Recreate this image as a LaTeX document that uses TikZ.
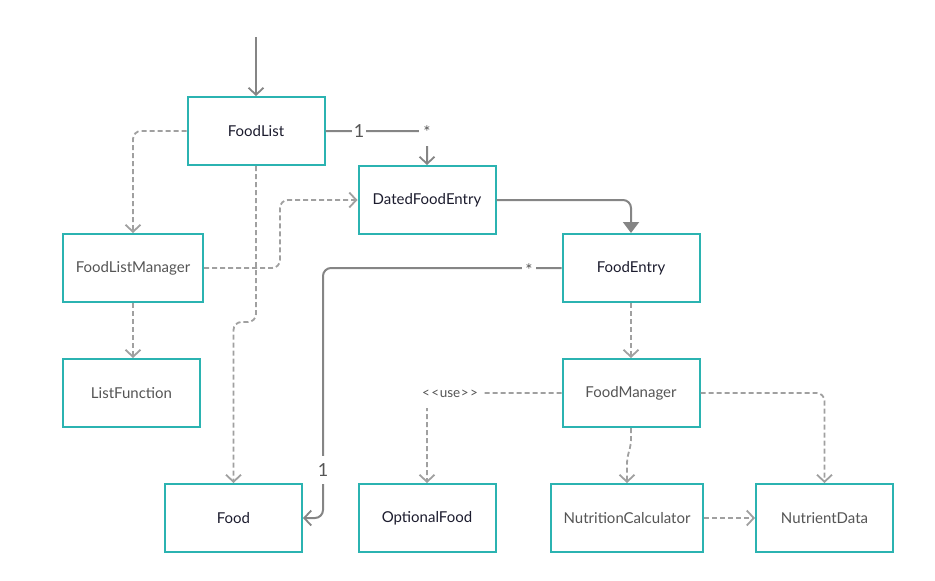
\documentclass[tikz,border=0pt]{standalone}
\usepackage{fontspec}
\setmainfont{Lato}
\usetikzlibrary{arrows.meta}
\definecolor{teal1}{HTML}{2BB3B1}
\definecolor{dtext}{HTML}{1C1C2E}
\definecolor{gtext}{HTML}{555555}
\definecolor{sline}{HTML}{858585}
\definecolor{dline}{HTML}{A0A0A0}
\begin{document}
\begin{tikzpicture}[x=1pt,y=-1pt,
  cls/.style={draw=teal1,line width=2pt,fill=white,minimum width=137pt,minimum height=68pt,inner sep=0pt,font=\fontsize{15}{18}\selectfont},
  dk/.style={text=dtext},
  gy/.style={text=gtext},
  solidc/.style={draw=sline,line width=2pt,rounded corners=8pt},
  dashc/.style={draw=dline,line width=1.8pt,dash pattern=on 5pt off 3pt,rounded corners=8pt},
  open/.style={-{Straight Barb[length=7pt,width=15pt,line width=1.8pt]}},
  filled/.style={-{Triangle[length=11pt,width=16pt]}},
  lbl/.style={fill=white,text=gtext,inner sep=2pt,font=\fontsize{18}{20}\selectfont},
  star/.style={text=gtext,inner sep=0pt,font=\fontsize{17}{18}\selectfont}
]
\useasboundingbox (0,0) rectangle (935,581);
\node[cls,dk] (FL) at (256,131) {FoodList};
\node[cls,dk] (DFE) at (427,200) {DatedFoodEntry};
\node[cls,dk] (FE) at (631,268) {FoodEntry};
\node[cls,gy,minimum width=140pt] (FLM) at (133,268) {FoodListManager};
\node[cls,gy] (LF) at (131.5,393) {ListFunction};
\node[cls,gy] (FM) at (631,393) {FoodManager};
\node[cls,dk] (F) at (233.5,518) {Food};
\node[cls,dk] (OF) at (427,518) {OptionalFood};
\node[cls,gy,minimum width=152pt] (NC) at (627,518) {NutritionCalculator};
\node[cls,gy] (ND) at (824.5,518) {NutrientData};
\coordinate (start) at (256,37);

% solid connectors
\draw[solidc,open] (start) -- (FL.north);
\draw[solidc,open] (FL.east) -| (DFE.north);
\node[lbl] (l1) at (359,131) {1};
\node[fill=white,inner sep=0pt,minimum width=16pt,minimum height=26pt,anchor=north] (l2) at (427,120) {};
\node[star] (l2t) at (427,132) {*};
\draw[solidc,filled] (DFE.east) -| (FE.north);
\draw[solidc,open] (FE.west) -| (323,518) -- (F.east);
\node[fill=white,inner sep=0pt,minimum width=14pt,minimum height=8pt] (l3) at (529,268) {};
\node[star] (l3t) at (529,270) {*};
\node[lbl,minimum height=28pt,inner sep=0pt] (l4) at (323,470) {1};

% dashed connectors
\draw[dashc,open] (FL.west) -| (FLM.north);
\draw[dashc,open] (FLM.south) -- (LF.north -| FLM.south);
\draw[dashc,open] (FLM.east) -- (280,268) -- (280,200) -- (DFE.west);
\draw[dashc,open] (FL.south) -- (256,322) -- (233.5,322) -- (F.north);
\draw[dashc,open] (FE.south) -- (FM.north);
\draw[dashc,open] (FM.west) -| (OF.north);
\node[fill=white,text=gtext,inner sep=0pt,minimum width=64pt,minimum height=28pt,font=\fontsize{13.5}{15}\selectfont] (use) at (450,394) {<\kern1.5pt<\kern0.5pt use\kern0.5pt>\kern1.5pt>};
\draw[dashc,open,rounded corners=6pt] (FM.south) -- (631,445) -- (627,458) -- (NC.north);
\draw[dashc,open] (FM.east) -| (ND.north);
\draw[dashc,open] (NC.east) -- (ND.west);
\end{tikzpicture}
\end{document}
